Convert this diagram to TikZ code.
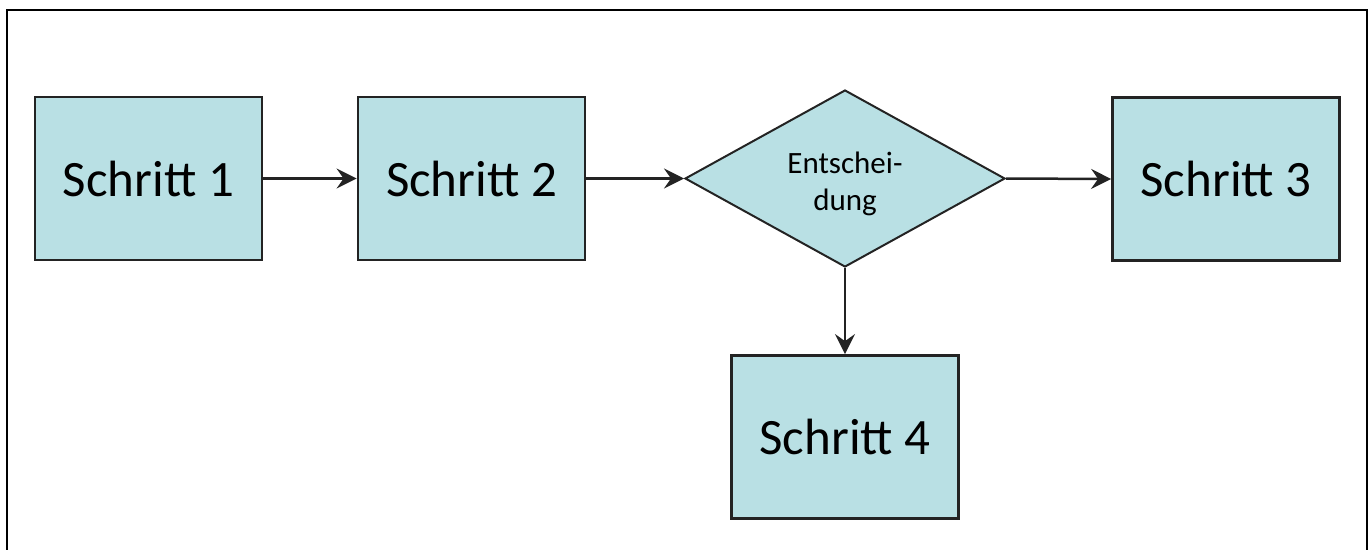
\documentclass[tikz,border=0pt]{standalone}
\usepackage{fontspec}
\setmainfont{Carlito}
\usetikzlibrary{shapes.geometric,arrows.meta}
\definecolor{boxfill}{RGB}{185,224,228}
\definecolor{boxline}{RGB}{35,35,35}
\tikzset{
  stepbox/.style={draw=boxline, line width=2.8pt, fill=boxfill, minimum width=227pt, minimum height=163pt, inner sep=0pt, font=\fontsize{51}{60}\selectfont},
  decbox/.style={draw=boxline, line width=2pt, fill=boxfill, diamond, minimum width=320pt, minimum height=177pt, inner sep=0pt, font=\fontsize{31}{37}\selectfont, align=center},
  conn/.style={draw=boxline, line width=2.5pt, -{Stealth[length=20pt,width=20pt,inset=7pt]}},
  frame/.style={draw=black, line width=2.5pt}
}
\begin{document}
\begin{tikzpicture}[x=1pt,y=-1pt]
\useasboundingbox (0,0) rectangle (1371,549);
\draw[frame] (7,560) -- (7,10) -- (1367,10) -- (1367,560);
\node[stepbox] (s1) at (148.5,178.5) {Schritt 1};
\node[stepbox] (s2) at (471.5,178.5) {Schritt 2};
\node[decbox] (d) at (845,178.5) {};
\node[font=\fontsize{31}{37}\selectfont, align=center] (dt) at (845,184) {Entschei-\\dung};
\node[stepbox] (s3) at (1226,179) {Schritt 3};
\node[stepbox] (s4) at (845,437) {Schritt 4};
\draw[conn] (s1.east) -- (s2.west);
\draw[conn] (s2.east) -- (d.west);
\draw[conn] (d.east) -- (s3.west);
\draw[conn] (d.south) -- (s4.north);
\end{tikzpicture}
\end{document}
